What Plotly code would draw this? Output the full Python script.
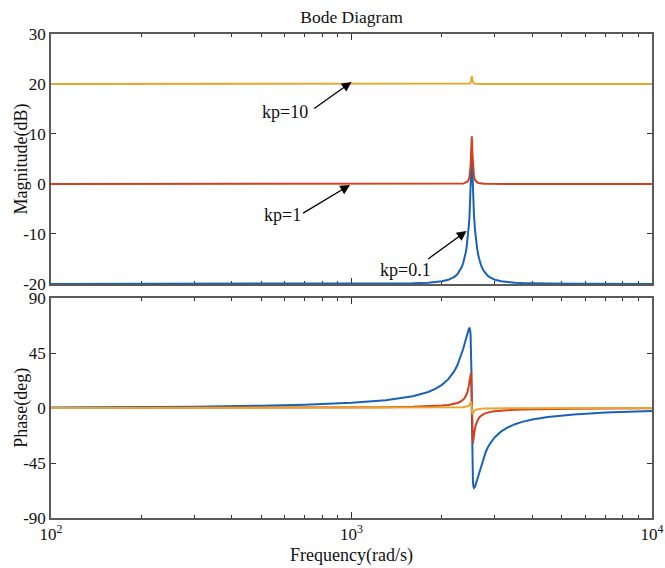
import plotly.graph_objects as go

# Frequency samples (rad/s), dense around the resonance near 2513 rad/s
freq = [100, 200, 300, 500, 700, 1000, 1300, 1600, 1800, 1900,
        2000, 2100, 2200, 2250, 2300, 2325, 2350, 2375, 2400, 2415,
        2430, 2440, 2450, 2460, 2470, 2480, 2490, 2500, 2507, 2513,
        2519, 2526, 2536, 2546, 2556, 2576, 2600, 2620, 2650, 2675,
        2700, 2750, 2800, 2850, 2900, 3000, 3150, 3300, 3500, 3700,
        4000, 4500, 5500, 7000, 10000]

# Magnitude (dB) for each proportional gain
mag_kp01 = [-20.00, -20.00, -20.00, -19.99, -19.99, -19.97, -19.94, -19.86, -19.75, -19.64,
            -19.46, -19.16, -18.57, -18.05, -17.25, -16.68, -15.95, -14.99, -13.70, -12.71,
            -11.49, -10.52, -9.37, -8.01, -6.35, -4.25, -1.52, 2.15, 5.11, 6.44,
            5.11, 2.18, -1.46, -4.15, -6.20, -9.18, -11.59, -13.04, -14.62, -15.57,
            -16.30, -17.32, -17.98, -18.43, -18.74, -19.14, -19.45, -19.62, -19.74, -19.81,
            -19.87, -19.92, -19.96, -19.98, -19.99]
mag_kp1 = [0.00, 0.00, 0.00, 0.00, 0.00, 0.00, 0.00, 0.00, 0.00, 0.00,
           0.01, 0.02, 0.03, 0.04, 0.07, 0.09, 0.12, 0.17, 0.25, 0.33,
           0.46, 0.58, 0.76, 1.04, 1.47, 2.22, 3.55, 5.98, 8.37, 9.54,
           8.38, 6.00, 3.58, 2.25, 1.52, 0.80, 0.45, 0.30, 0.19, 0.14,
           0.11, 0.07, 0.05, 0.03, 0.03, 0.02, 0.01, 0.01, 0.00, 0.00,
           0.00, 0.00, 0.00, 0.00, 0.00]
mag_kp10 = [20.00, 20.00, 20.00, 20.00, 20.00, 20.00, 20.00, 20.00, 20.00, 20.00,
            20.00, 20.00, 20.00, 20.00, 20.00, 20.00, 20.01, 20.01, 20.01, 20.02,
            20.03, 20.03, 20.05, 20.06, 20.10, 20.16, 20.29, 20.66, 21.22, 21.58,
            21.22, 20.66, 20.30, 20.16, 20.10, 20.05, 20.03, 20.02, 20.01, 20.01,
            20.01, 20.00, 20.00, 20.00, 20.00, 20.00, 20.00, 20.00, 20.00, 20.00,
            20.00, 20.00, 20.00, 20.00, 20.00]

# Phase (deg) for each proportional gain
ph_kp01 = [0.36, 0.73, 1.10, 1.89, 2.75, 4.30, 6.41, 9.66, 13.14, 15.63,
           18.95, 23.58, 30.35, 34.97, 40.72, 44.11, 47.83, 51.91, 56.21, 58.82,
           61.35, 62.88, 64.19, 65.11, 65.34, 64.26, 60.32, 48.97, 29.41, 0.00,
           -29.33, -48.83, -60.19, -64.17, -65.32, -64.37, -61.18, -58.03, -53.28, -49.56,
           -46.15, -40.28, -35.54, -31.71, -28.59, -23.86, -19.14, -16.03, -13.24, -11.32,
           -9.37, -7.36, -5.25, -3.75, -2.45]
ph_kp1 = [0.04, 0.07, 0.11, 0.19, 0.28, 0.43, 0.64, 0.98, 1.34, 1.61,
          1.98, 2.52, 3.40, 4.09, 5.10, 5.79, 6.69, 7.90, 9.60, 10.99,
          12.81, 14.35, 16.28, 18.67, 21.68, 25.35, 29.00, 29.02, 19.70, 0.00,
          -19.65, -28.99, -29.06, -25.50, -21.94, -16.62, -12.66, -10.52, -8.38, -7.17,
          -6.27, -5.01, -4.18, -3.60, -3.16, -2.56, -2.00, -1.65, -1.35, -1.15,
          -0.95, -0.74, -0.53, -0.38, -0.25]
ph_kp10 = [0.00, 0.01, 0.01, 0.02, 0.03, 0.04, 0.06, 0.10, 0.13, 0.16,
           0.20, 0.25, 0.34, 0.41, 0.51, 0.58, 0.68, 0.80, 0.98, 1.13,
           1.34, 1.51, 1.74, 2.05, 2.48, 3.11, 4.04, 5.14, 4.41, 0.00,
           -4.40, -5.14, -4.07, -3.14, -2.52, -1.79, -1.32, -1.08, -0.85, -0.73,
           -0.63, -0.50, -0.42, -0.36, -0.32, -0.26, -0.20, -0.17, -0.14, -0.12,
           -0.09, -0.07, -0.05, -0.04, -0.02]

series = [
    ("kp=0.1", mag_kp01, ph_kp01, "#1a62b8"),
    ("kp=1", mag_kp1, ph_kp1, "#d43f1c"),
    ("kp=10", mag_kp10, ph_kp10, "#e8a52a"),
]

mag_ticks = [-20, -10, 0, 10, 20, 30]
mag_ticktext = ["-20", "-10", "0", "10", "20", "30"]
ph_ticks = [-90, -45, 0, 45, 90]
ph_ticktext = ["-90", "-45", "0", "45", "90"]
freq_ticks = [100, 1000, 10000]
freq_ticktext = ["10<sup>2</sup>", "10<sup>3</sup>", "10<sup>4</sup>"]
minor_freq = [200, 300, 400, 500, 600, 700, 800, 900,
              2000, 3000, 4000, 5000, 6000, 7000, 8000, 9000]

FONT = "Liberation Serif, Times New Roman, serif"
FRAME = "#5a5a5a"
TEXT = "#111111"

fig = go.Figure()
for name, mag, ph, color in series:
    fig.add_trace(go.Scatter(x=freq, y=mag, mode="lines", name=name,
                             line=dict(color=color, width=2), xaxis="x", yaxis="y"))
    fig.add_trace(go.Scatter(x=freq, y=ph, mode="lines", name=name,
                             line=dict(color=color, width=2), xaxis="x2", yaxis="y2"))

axis_common = dict(showline=True, linecolor=FRAME, linewidth=1.5, mirror="allticks",
                   ticks="inside", tickcolor="#333333", tickwidth=1,
                   showgrid=False, zeroline=False, layer="below traces",
                   automargin=False,
                   tickfont=dict(family=FONT, size=17, color=TEXT))

x_common = dict(axis_common, type="log", range=[2, 4], ticklen=6,
                tickvals=freq_ticks, ticktext=freq_ticktext,
                minor=dict(ticks="inside", ticklen=3, tickvals=minor_freq,
                           tickcolor="#333333", tickwidth=1, showgrid=False))

# Arrow annotations: head sits on the curve, tail near the label
arrows = [
    # (label, text x, text y, tail x, tail y, head x, head y) in log10(freq) / dB
    ("kp=10", 2.779, 14.5, 2.871, 14.9, 3.0, 20.4),
    ("kp=1", 2.769, -6.2, 2.834, -6.0, 2.995, -0.2),
    ("kp=0.1", 3.181, -17.2, 3.250, -15.2, 3.383, -9.4),
]
annotations = []
for label, tx, ty, axx, ayy, hx, hy in arrows:
    annotations.append(dict(x=hx, y=hy, ax=axx, ay=ayy, xref="x", yref="y",
                            axref="x", ayref="y", text="", showarrow=True,
                            arrowhead=2, arrowsize=1.5, arrowwidth=1.3,
                            arrowcolor="#000000", standoff=0, startstandoff=0))
    annotations.append(dict(x=tx, y=ty, xref="x", yref="y", text=label,
                            showarrow=False, font=dict(family=FONT, size=18, color=TEXT)))

# Axis titles
annotations += [
    dict(x=-0.049, y=0.742, xref="paper", yref="paper", text="Magnitude(dB)",
         textangle=-90, showarrow=False, xanchor="center", yanchor="middle",
         font=dict(family=FONT, size=18, color=TEXT)),
    dict(x=-0.049, y=0.227, xref="paper", yref="paper", text="Phase(deg)",
         textangle=-90, showarrow=False, xanchor="center", yanchor="middle",
         font=dict(family=FONT, size=18, color=TEXT)),
    dict(x=0.5, y=-0.077, xref="paper", yref="paper", text="Frequency(rad/s)",
         showarrow=False, xanchor="center", yanchor="middle",
         font=dict(family=FONT, size=18, color=TEXT)),
]

fig.update_layout(
    width=665, height=568,
    margin=dict(l=51, r=13, t=34, b=50, autoexpand=False),
    paper_bgcolor="white", plot_bgcolor="white",
    showlegend=False,
    title=dict(text="Bode Diagram", x=0.5, xref="paper", y=1 - 17 / 568,
               yref="container", xanchor="center", yanchor="middle",
               font=dict(family=FONT, size=17.5, color=TEXT)),
    xaxis=dict(x_common, domain=[0, 1], anchor="y", showticklabels=False),
    yaxis=dict(axis_common, domain=[0.4835, 1], range=[-20, 30], ticklen=5,
               tickvals=mag_ticks, ticktext=mag_ticktext, anchor="x"),
    xaxis2=dict(x_common, domain=[0, 1], anchor="y2", matches="x"),
    yaxis2=dict(axis_common, domain=[0, 0.4545], range=[-90, 90], ticklen=5,
                tickvals=ph_ticks, ticktext=ph_ticktext, anchor="x2"),
    annotations=annotations,
)

fig.write_html("out.html")
